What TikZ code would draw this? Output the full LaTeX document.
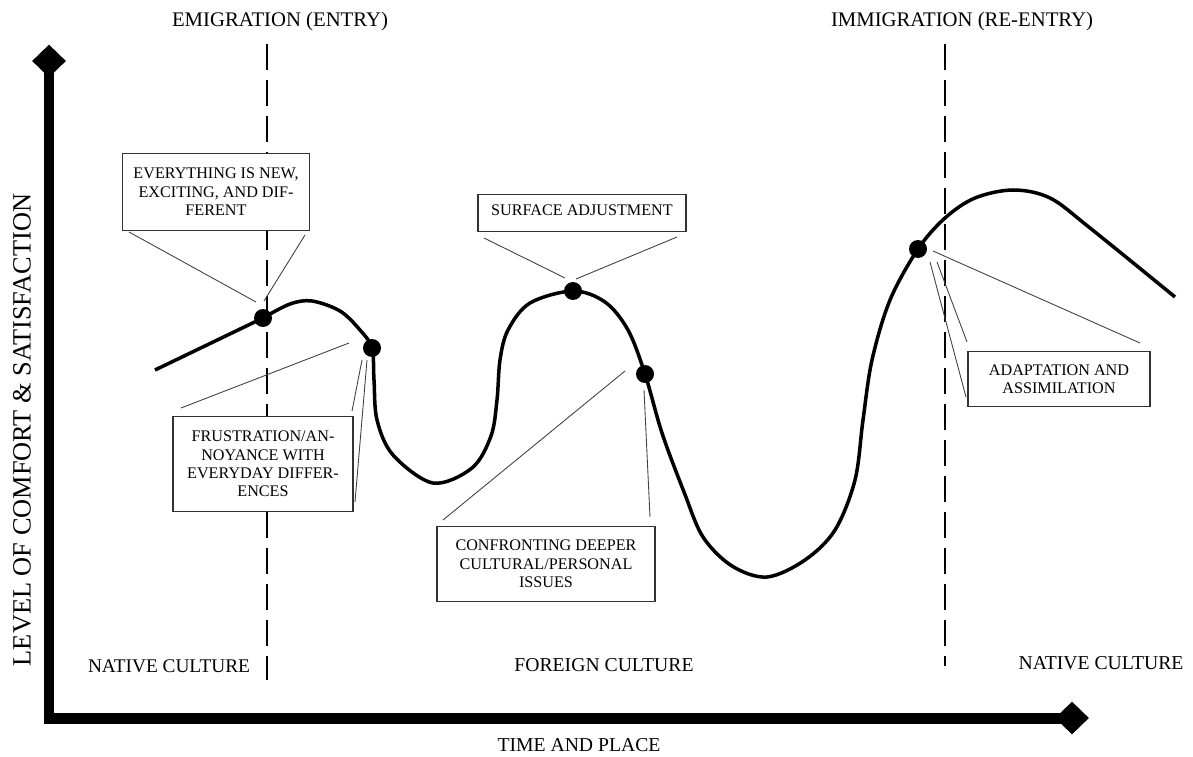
\documentclass[tikz,border=0pt]{standalone}
\usepackage{fontspec}
\setmainfont{Liberation Serif}
\usetikzlibrary{shapes.geometric}

\begin{document}
\begin{tikzpicture}[x=0.02cm, y=-0.02cm,
	box/.style={draw=black!80, fill=white, line width=0.7pt, inner sep=2pt, align=center, font=\fontsize{9.2}{10.5}\selectfont},
	lbl/.style={inner sep=0pt, font=\fontsize{11.8}{13}\selectfont},
	callout/.style={draw=black!75, line width=0.5pt},
	divider/.style={line width=1.2pt, dash pattern=on 0.52cm off 0.2cm},
	dot/.style={circle, fill=black, minimum size=0.36cm, inner sep=0pt},
	tip/.style={diamond, fill=black, minimum width=0.68cm, minimum height=0.66cm, inner sep=0pt}]
	
	\useasboundingbox (0,0) rectangle (1193,757);
	
	% Axes
	\node[tip] (ytip) at (49,61) {};
	\node[tip] (xtip) at (1072,718) {};
	\draw[line width=0.22cm] (ytip.center) |- (xtip.center);
	
	% Labels
	\node[inner sep=0pt, rotate=90, font=\fontsize{15}{17}\selectfont] (ylabel) at (22,430) {LEVEL OF COMFORT \& SATISFACTION};
	\node[lbl, font=\fontsize{11.2}{13}\selectfont] (xlabel) at (579,745) {TIME AND PLACE};
	\node[lbl] (emi) at (280,22) {EMIGRATION (ENTRY)};
	\node[lbl] (imm) at (962,22) {IMMIGRATION (RE-ENTRY)};
	\node[lbl, font=\fontsize{11}{13}\selectfont] (native1) at (169,666) {NATIVE CULTURE};
	\node[lbl, font=\fontsize{11.2}{13}\selectfont] (foreign) at (604,665) {FOREIGN CULTURE};
	\node[lbl, font=\fontsize{11.2}{13}\selectfont] (native2) at (1101,663) {NATIVE CULTURE};
	
	% Dividers
	\coordinate (e1) at (267,44);
	\coordinate (e2) at (267,680);
	\coordinate (r1) at (945,44);
	\coordinate (r2) at (945,666);
	\draw[divider] (e1) -- (e2);
	\draw[divider] (r1) -- (r2);
	
	% Curve
	\draw[line width=2pt, line join=round] (155,370) -- plot[smooth, tension=0.55] coordinates {
		(263,318) (290,304) (312,301) (340,311) (360,330) (372,348) (374,380) (377,420)
		(393,455) (433,483) (472,468) (491,436) (497,400) (500,360) (508,330) (530,303)
		(573,291) (605,302) (628,330) (645,374) (662,433) (684,492) (703,537) (732,566)
		(767,577) (805,560) (835,530) (855,480) (863,420) (872,360) (890,300) (918,249)
		(945,218) (975,198) (1013,190) (1050,198) (1090,228) (1175,297)};
	
	% Stages
	\node[dot] (p1) at (263,318) {};
	\node[dot] (p2) at (372,348) {};
	\node[dot] (p3) at (573,291) {};
	\node[dot] (p4) at (645,374) {};
	\node[dot] (p5) at (918,249) {};
	
	% Callout ends
	\coordinate (a1) at (129,232);
	\coordinate (a2) at (256,302);
	\coordinate (a3) at (305,235);
	\coordinate (a4) at (264,301);
	\coordinate (b1) at (484,238);
	\coordinate (b2) at (565,278);
	\coordinate (b3) at (677,237);
	\coordinate (b4) at (576,279);
	\coordinate (c1) at (181,408);
	\coordinate (c2) at (349,343);
	\coordinate (c3) at (362,360);
	\coordinate (c4) at (352,411);
	\coordinate (c5) at (367,360);
	\coordinate (c6) at (355,502);
	\coordinate (d1) at (625,371);
	\coordinate (d2) at (443,520);
	\coordinate (d3) at (644,390);
	\coordinate (d4) at (650,517);
	\coordinate (f1) at (933,251);
	\coordinate (f2) at (1140,343);
	\coordinate (f3) at (930,262);
	\coordinate (f4) at (966,397);
	\coordinate (f5) at (937,262);
	\coordinate (f6) at (967,342);
	
	% Edges
	\draw[callout] (a1) -- (a2);
	\draw[callout] (a3) -- (a4);
	\draw[callout] (b1) -- (b2);
	\draw[callout] (b3) -- (b4);
	\draw[callout] (c1) -- (c2);
	\draw[callout] (c3) -- (c4);
	\draw[callout] (c5) -- (c6);
	\draw[callout] (d1) -- (d2);
	\draw[callout] (d3) -- (d4);
	\draw[callout] (f1) -- (f2);
	\draw[callout] (f3) -- (f4);
	\draw[callout] (f5) -- (f6);
	
	% Boxes
	\node[box, minimum width=3.74cm, minimum height=1.54cm] (new) at (216,192) {EVERYTHING IS NEW,\\EXCITING, AND DIF-\\FERENT};
	\node[box, minimum width=4.16cm, minimum height=0.74cm, text depth=3pt] (surface) at (582,213) {SURFACE ADJUSTMENT};
	\node[box, minimum width=3.6cm, minimum height=1.9cm] (frust) at (263,464) {FRUSTRATION/AN-\\NOYANCE WITH\\EVERYDAY DIFFER-\\ENCES};
	\node[box, minimum width=4.36cm, minimum height=1.5cm] (deeper) at (546,564) {CONFRONTING DEEPER\\CULTURAL/PERSONAL\\ISSUES};
	\node[box, minimum width=3.64cm, minimum height=1.1cm] (adapt) at (1059,379) {ADAPTATION AND\\ASSIMILATION};
	
\end{tikzpicture}
\end{document}
